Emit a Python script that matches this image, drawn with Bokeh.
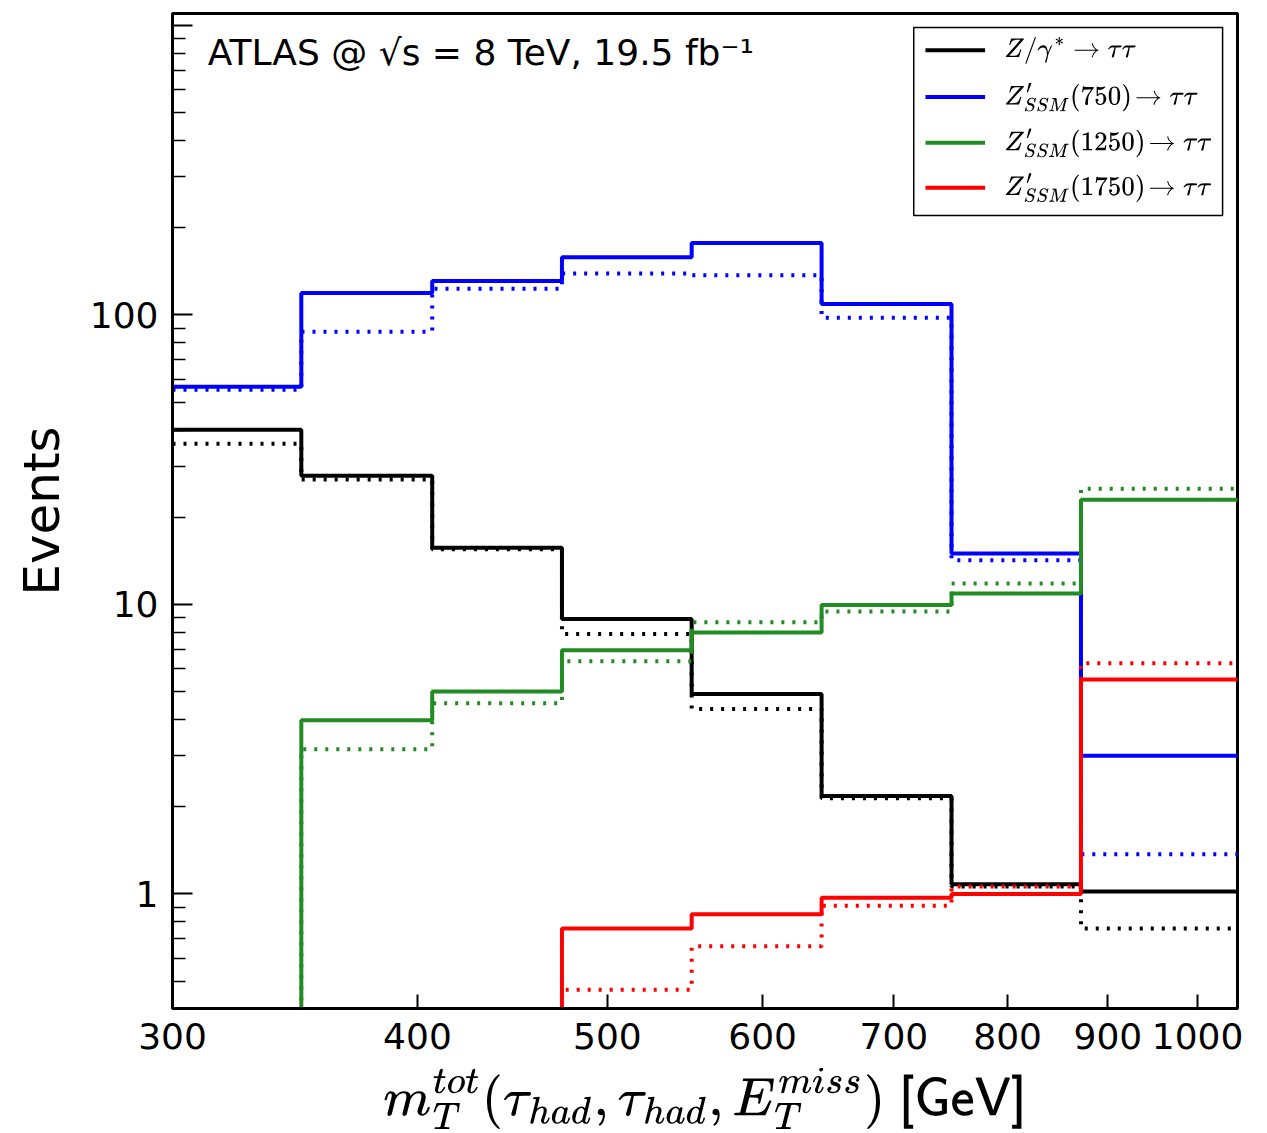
from bokeh.plotting import figure
from bokeh.models import Range1d, FixedTicker, CustomJSTickFormatter, Label, TeX
from bokeh.embed import file_html
from bokeh.resources import INLINE

# ---- data ----
bin_edges = [300, 349, 407, 474, 552, 643, 749, 872, 1100]

dy_solid = [40.1, 27.8, 15.7, 8.9, 4.9, 2.18, 1.08, 1.02]
dy_dotted = [35.9, 27.0, 15.5, 7.9, 4.35, 2.14, 1.06, 0.76]

zp750_solid = [56.5, 119, 131, 158, 177, 109, 15.0, 3.0]
zp750_dotted = [55.1, 87.4, 123, 139, 137, 97.7, 14.2, 1.37]

zp1250_solid = [0, 3.98, 5.0, 6.95, 8.0, 9.95, 10.9, 23.0]
zp1250_dotted = [0, 3.16, 4.56, 6.36, 8.67, 9.46, 11.8, 25.1]

zp1750_solid = [0, 0, 0, 0.76, 0.85, 0.97, 1.0, 5.5]
zp1750_dotted = [0, 0, 0, 0.467, 0.66, 0.91, 1.06, 6.26]

series_colors = ["black", "#0000ff", "#228b22", "#ff0000"]
legend_labels = [
    r"Z/\gamma^*\rightarrow\tau\tau",
    r"Z'_{SSM}(750)\!\rightarrow\tau\tau",
    r"Z'_{SSM}(1250)\!\rightarrow\tau\tau",
    r"Z'_{SSM}(1750)\!\rightarrow\tau\tau",
]

x_ticks = [300, 400, 500, 600, 700, 800, 900, 1000]
y_ticks = [1, 10, 100, 1000]
y_minor = [0.5, 0.6, 0.7, 0.8, 0.9] + [k for k in range(2, 10)] + \
          [10 * k for k in range(2, 10)] + [100 * k for k in range(2, 10)]

X0, X1 = 300.0, 1048.0
Y0, Y1 = 0.402, 1099.0
FLOOR = 1e-3  # empty bins drawn below the visible range on the log axis

p = figure(
    x_axis_type="log", y_axis_type="log",
    x_range=Range1d(X0, X1), y_range=Range1d(Y0, Y1),
    frame_width=1065, frame_height=995,
    min_border_left=172, min_border_right=20,
    min_border_top=13, min_border_bottom=112,
    output_backend="svg", toolbar_location=None,
)
p.xgrid.visible = False
p.ygrid.visible = False
p.outline_line_color = "black"
p.outline_line_width = 3
p.outline_line_alpha = 1.0
p.background_fill_color = "white"
p.border_fill_color = "white"

# axes
for ax in (p.xaxis[0], p.yaxis[0]):
    ax.axis_line_width = 3
    ax.major_tick_in = 14
    ax.major_tick_out = 0
    ax.minor_tick_in = 8
    ax.minor_tick_out = 0
    ax.major_tick_line_width = 2
    ax.minor_tick_line_width = 1.5
    ax.major_label_text_font = "DejaVu Sans"
    ax.major_label_text_font_size = "36px"
    ax.major_label_text_color = "black"
    ax.axis_label_text_color = "black"

p.xaxis.ticker = FixedTicker(ticks=x_ticks, minor_ticks=[])
p.xaxis.formatter = CustomJSTickFormatter(code="return String(Math.round(tick));")
p.xaxis.major_label_standoff = 14
p.xaxis.axis_label = r"$$m_T^{tot}(\tau_{had},\tau_{had},E_T^{miss})\ \textsf{[GeV]}$$"
p.xaxis.axis_label_text_font_size = "44px"
p.xaxis.axis_label_standoff = 16

p.yaxis.ticker = FixedTicker(ticks=y_ticks, minor_ticks=y_minor)
p.yaxis.formatter = CustomJSTickFormatter(
    code="return tick > 500 ? '' : String(Math.round(tick));")
p.yaxis.major_tick_in = 20
p.yaxis.minor_tick_in = 13
p.yaxis.major_label_standoff = 14
p.yaxis.axis_label = "Events"
p.yaxis.axis_label_text_font = "DejaVu Sans"
p.yaxis.axis_label_text_font_style = "normal"
p.yaxis.axis_label_text_font_size = "50px"
p.yaxis.axis_label_standoff = 16


def ext(vals):
    v = [max(a, FLOOR) for a in vals]
    return v + [v[-1]]


solid_sets = [dy_solid, zp750_solid, zp1250_solid, zp1750_solid]
dotted_sets = [dy_dotted, zp750_dotted, zp1250_dotted, zp1750_dotted]

for vals_s, vals_d, col in zip(solid_sets, dotted_sets, series_colors):
    p.step(x=bin_edges, y=ext(vals_d), mode="after", line_color=col,
           line_width=4, line_dash="3 8")
    p.step(x=bin_edges, y=ext(vals_s), mode="after", line_color=col,
           line_width=4)


# helpers: frame fractions -> data coordinates on the log axes
def fx(f):
    return X0 * (X1 / X0) ** f


def fy(f):
    return Y0 * (Y1 / Y0) ** f


# legend box
p.quad(left=[fx(0.696)], right=[fx(0.986)], top=[fy(0.986)], bottom=[fy(0.797)],
       fill_color="white", line_color="black", line_width=1.5)
row_fy = [0.963, 0.916, 0.870, 0.825]
for lab, col, ry in zip(legend_labels, series_colors, row_fy):
    p.line(x=[fx(0.707), fx(0.763)], y=[fy(ry), fy(ry)], line_color=col, line_width=4)
    p.add_layout(Label(x=fx(0.781), y=fy(ry), text=TeX(text=lab),
                       text_font_size="22px", text_baseline="middle",
                       text_color="black"))

# ATLAS text
p.add_layout(Label(x=fx(0.033), y=fy(0.961),
                   text="ATLAS @ \u221as = 8 TeV, 19.5 fb\u207b\u00b9",
                   text_font="DejaVu Sans", text_font_size="36px",
                   text_baseline="middle", text_color="black"))

open("out.html", "w").write(file_html(p, INLINE))
